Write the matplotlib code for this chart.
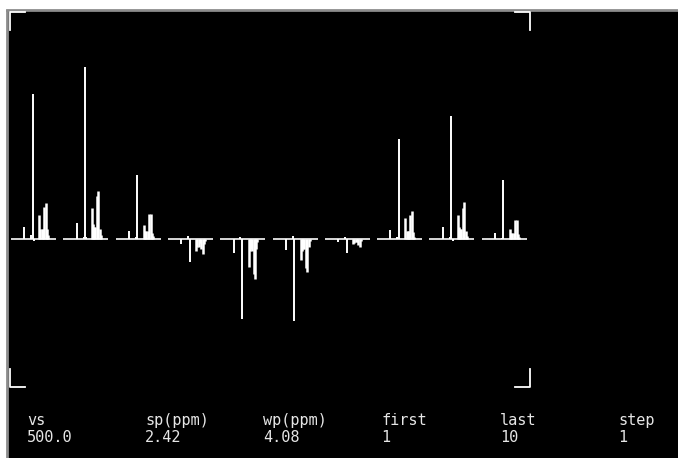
import matplotlib
matplotlib.use("Agg")
import matplotlib.pyplot as plt

# display parameters (as shown under the plot)
vs = 500.0
sp = 2.42
wp = 4.08
first = 1
last = 10
step = 1

# peak positions (ppm), shared by every trace of the array
peak_ppm = [5.29, 4.66, 4.53, 4.40, 3.93, 3.83, 3.71, 3.60, 3.48, 3.33, 3.21, 3.12]

# peak heights (mm at vs=500) for traces 1..10
trace1 = [12, 4, 145, -2, 24, 10, 10, 10, 32, 36, 10, 4]
trace2 = [16, 2, 172, 2, 31, 15, 12, 12, 43, 48, 10, 4]
trace3 = [8, 2, 64, 0, 14, 8, 8, 8, 25, 25, 6, 3]
trace4 = [-5, 3, -23, 0, -12, -8, -8, -4, -10, -15, -5, -2]
trace5 = [-14, 2, -80, 0, -28, -12, -10, -12, -35, -40, -10, -3]
trace6 = [-11, 3, -82, 0, -21, -12, -10, -10, -29, -33, -8, -2]
trace7 = [-3, 2, -14, 0, -5, -4, -3, -3, -6, -8, -2, 0]
trace8 = [9, 2, 100, 0, 21, 8, 8, 8, 24, 28, 7, 2]
trace9 = [12, 2, 123, -2, 24, 12, 10, 10, 31, 37, 8, 3]
trace10 = [6, 1, 59, 0, 10, 6, 6, 6, 19, 19, 5, 2]
traces = [trace1, trace2, trace3, trace4, trace5, trace6, trace7, trace8, trace9, trace10]

labels = ["vs", "sp(ppm)", "wp(ppm)", "first", "last", "step"]
values = [f"{vs:.1f}", f"{sp:.2f}", f"{wp:.2f}", str(first), str(last), str(step)]

W, H = 678, 458
px_per_ppm = 45 / wp
ho = 52.3 / px_per_ppm  # horizontal offset between traces

fig = plt.figure(figsize=(W / 100, H / 100), dpi=100, facecolor="white")

# black display window with dotted frame on left/top
bg = fig.add_axes([7 / W, 0, 671 / W, 448 / H])
bg.set_facecolor("black")
bg.set_xticks([])
bg.set_yticks([])
for side in ["right", "bottom"]:
    bg.spines[side].set_visible(False)
for side in ["left", "top"]:
    bg.spines[side].set_color("#8c8c8c")
    bg.spines[side].set_linewidth(2.0)
    bg.spines[side].set_linestyle((0, (1, 1)))

# spectrum area
ax = fig.add_axes([10 / W, (H - 387) / H, 520 / W, 375 / H])
ax.set_facecolor("none")
ax.axis("off")
ax.set_xlim(-1 / px_per_ppm, 519 / px_per_ppm)
ax.set_ylim(-148, 227)

for i, vals in enumerate(traces):
    x0 = i * ho
    xs = [x0 + (sp + wp - p) for p in peak_ppm]
    ax.hlines(0, x0, x0 + wp, color="#e8e8e8", lw=1.3)
    ax.vlines(xs[:4], 0, vals[:4], color="white", lw=1.4)
    ax.vlines(xs[4:], 0, vals[4:], color="white", lw=1.8)

# corner marks
hx, vy = 15 / 520, 18 / 375
corners = [
    ([hx, 0, 0], [1, 1, 1 - vy]),
    ([1 - hx, 1, 1], [1, 1, 1 - vy]),
    ([0, 0, hx], [vy, 0, 0]),
    ([1, 1, 1 - hx], [vy, 0, 0]),
]
for cx, cy in corners:
    ax.plot(cx, cy, color="white", lw=1.3, transform=ax.transAxes, clip_on=False)

# parameter line
for k, (lab, val) in enumerate(zip(labels, values)):
    x = (27 + 118.2 * k) / W
    fig.text(x, (H - 425) / H, lab, color="#e6e6e6", fontsize=11,
             family="DejaVu Sans Mono", va="baseline")
    fig.text(x, (H - 442) / H, val, color="#e6e6e6", fontsize=11,
             family="DejaVu Sans Mono", va="baseline")

fig.savefig("out.png", dpi=100, facecolor="white")
